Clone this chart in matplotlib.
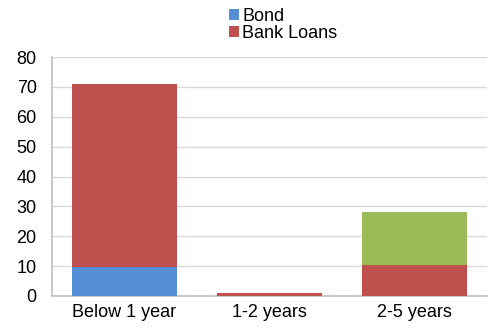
import numpy as np
import matplotlib.pyplot as plt

plt.rcParams['font.family'] = ['Liberation Sans', 'DejaVu Sans']

categories = ['Below 1 year', '1-2 years', '2-5 years']
bond = [9.7, 0, 0]
bank_loans = [61.1, 1.0, 10.4]
other = [0, 0, 17.7]

fig = plt.figure(figsize=(4.95, 3.32), dpi=100)
ax = fig.add_axes([52 / 495, 36 / 332, 435 / 495, 239 / 332])

x = np.arange(len(categories))
w = 0.72
b1 = ax.bar(x, bond, w, color='#558ED5', label='Bond', zorder=3)
b2 = ax.bar(x, bank_loans, w, bottom=bond, color='#C0504D', label='Bank Loans', zorder=3)
bottom3 = np.array(bond) + np.array(bank_loans)
ax.bar(x, other, w, bottom=bottom3, color='#9BBB59', zorder=3)

ax.set_xlim(-0.5, 2.5)
ax.set_ylim(0, 80)
ax.set_yticks(range(0, 81, 10))
ax.set_xticks(x)
ax.set_xticklabels(categories)
ax.tick_params(axis='both', length=0, labelsize=13, pad=6)
ax.tick_params(axis='y', pad=11)
ax.grid(axis='y', color='#D9D9D9', linewidth=1, zorder=0)
for s in ['top', 'right']:
    ax.spines[s].set_visible(False)
ax.spines['left'].set_color('#BFBFBF')
ax.spines['bottom'].set_color('#BFBFBF')
ax.spines['left'].set_linewidth(1.2)
ax.spines['bottom'].set_linewidth(1.2)

fig.legend(handles=[b1, b2], loc='upper left', bbox_to_anchor=(216 / 495, 1.015),
           frameon=False, fontsize=13, handlelength=0.6, handleheight=0.6,
           handletextpad=0.15, labelspacing=0.0, borderpad=0.2)

fig.savefig('out.png', dpi=100)
